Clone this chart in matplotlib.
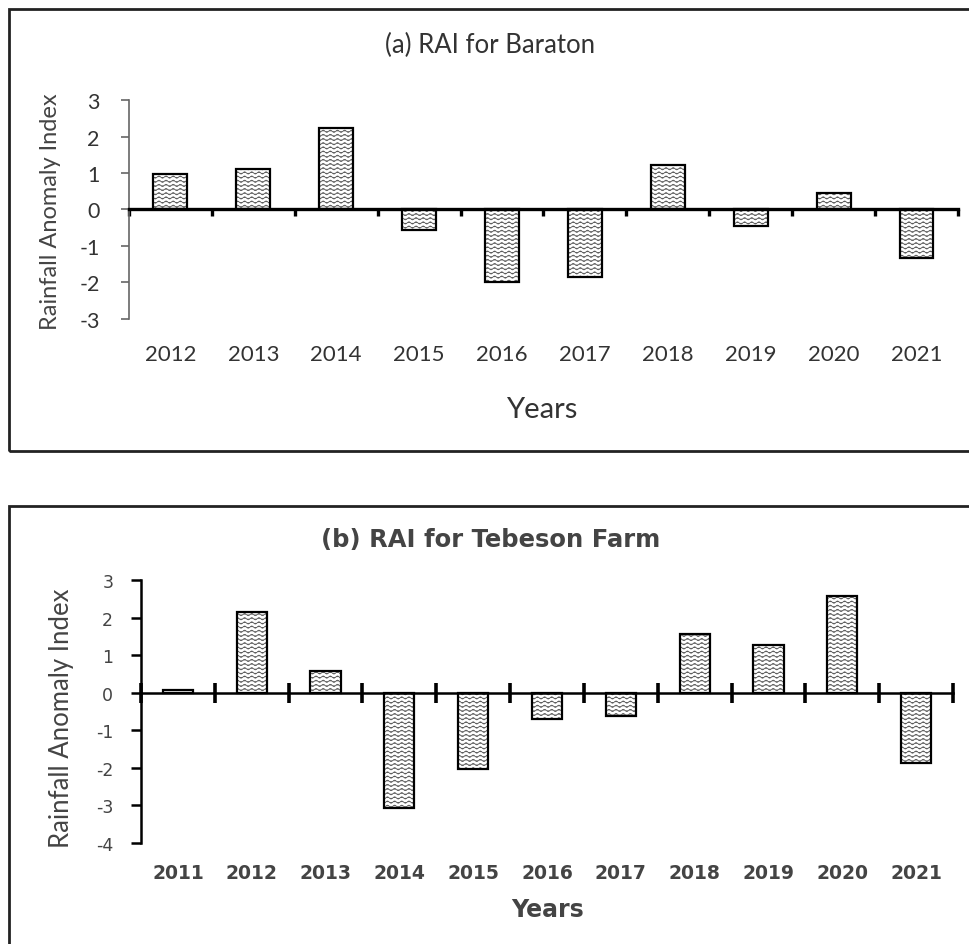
import numpy as np
import matplotlib
matplotlib.use('Agg')
import matplotlib.pyplot as plt
import matplotlib.hatch as mhatch
from matplotlib.path import Path
from matplotlib.patches import Rectangle

plt.rcParams.update({
    'axes.unicode_minus': False,
    'hatch.linewidth': 0.55,
    'hatch.color': '#555555',
})

# ── data ──────────────────────────────────────────────
years_a = ['2012', '2013', '2014', '2015', '2016', '2017', '2018', '2019', '2020', '2021']
rai_a = [0.97, 1.12, 2.22, -0.57, -2.0, -1.84, 1.23, -0.46, 0.44, -1.34]

years_b = ['2011', '2012', '2013', '2014', '2015', '2016', '2017', '2018', '2019', '2020', '2021']
rai_b = [0.08, 2.14, 0.58, -3.08, -2.02, -0.71, -0.62, 1.55, 1.26, 2.57, -1.86]


# wavy hatch: replace the plain horizontal hatch '-' with wavy lines
class WaveHatch(mhatch.HatchPatternBase):
    n_seg = 120

    def __init__(self, hatch, density):
        self.num_lines = int(hatch.count('-') * density)
        self.num_vertices = self.num_lines * (self.n_seg + 1)

    def set_vertices_and_codes(self, vertices, codes):
        n = self.n_seg + 1
        x = np.linspace(0, 1, n)
        step = 1.0 / self.num_lines
        for i in range(self.num_lines):
            y0 = (i + 0.5) * step
            sl = slice(i * n, (i + 1) * n)
            vertices[sl, 0] = x
            vertices[sl, 1] = y0 + 0.011 * np.sin(2 * np.pi * 14 * x)
            codes[sl] = Path.LINETO
            codes[i * n] = Path.MOVETO


mhatch._hatch_types[:] = [WaveHatch if t is mhatch.HorizontalHatch else t
                          for t in mhatch._hatch_types]

fig = plt.figure(figsize=(9.69, 9.45), dpi=100)

# panel frames
fig.add_artist(Rectangle((0.0093, 0.5217), 1.2, 0.4677, transform=fig.transFigure,
                         fill=False, lw=2.0, ec='#222222'))
fig.add_artist(Rectangle((0.0093, -0.2), 1.2, 0.6635, transform=fig.transFigure,
                         fill=False, lw=2.0, ec='#222222'))


def draw_bars(ax, vals, w=0.41):
    x = np.arange(len(vals))
    ax.bar(x, vals, w, color='white', hatch='----', lw=0, zorder=2)
    ax.bar(x, vals, w, fill=False, ec='black', lw=1.6, zorder=3)
    return x


# ── (a) Baraton ──────────────────────────────────────
f_a = 'Lato'
axa = fig.add_axes([0.1331, 0.6614, 0.8555, 0.2317])
xa = draw_bars(axa, rai_a)
axa.set_xlim(-0.5, len(years_a) - 0.5)
axa.set_ylim(-3, 3)
for s in ['top', 'right']:
    axa.spines[s].set_visible(False)
axa.spines['bottom'].set_position(('data', 0))
axa.spines['bottom'].set_linewidth(2.4)
axa.spines['bottom'].set_zorder(4)
axa.spines['left'].set_color('#666666')
axa.spines['left'].set_linewidth(1.2)
axa.set_yticks(range(-3, 4))
axa.tick_params(axis='y', direction='out', length=6, width=1.2, color='#666666',
                pad=15, labelsize=15.5, labelcolor='#333333')
for lb in axa.get_yticklabels():
    lb.set_fontfamily(f_a)
axa.set_xticks(np.arange(-0.5, len(years_a)))
axa.set_xticklabels([])
axa.tick_params(axis='x', direction='out', length=5, width=2.4, color='black')
for i, y in enumerate(years_a):
    axa.text(i, -3.97, y, ha='center', va='center', fontsize=16, family=f_a,
             color='#333333', clip_on=False)
fig.text(0.506, 0.9524, '(a) RAI for Baraton', ha='center', va='center',
         fontsize=18.5, family=f_a, color='#333333')
fig.text(0.559, 0.566, 'Years', ha='center', va='center', fontsize=21,
         family=f_a, color='#333333')
fig.text(0.052, 0.7760, 'Rainfall Anomaly Index', ha='center', va='center',
         rotation=90, fontsize=17, family=f_a, color='#444444')

# ── (b) Tebeson Farm ─────────────────────────────────
f_b = 'DejaVu Sans'
axb = fig.add_axes([0.1455, 0.1069, 0.8380, 0.2783])
xb = draw_bars(axb, rai_b)
axb.set_xlim(-0.5, len(years_b) - 0.5)
axb.set_ylim(-4, 3)
for s in ['top', 'right']:
    axb.spines[s].set_visible(False)
axb.spines['bottom'].set_position(('data', 0))
axb.spines['bottom'].set_linewidth(1.8)
axb.spines['bottom'].set_zorder(4)
axb.spines['left'].set_linewidth(1.8)
axb.set_yticks(range(-4, 4))
axb.tick_params(axis='y', direction='out', length=7, width=1.8, pad=13,
                labelsize=12.5, labelcolor='#444444')
axb.set_xticks(np.arange(-0.5, len(years_b)))
axb.set_xticklabels([])
axb.tick_params(axis='x', direction='inout', length=14, width=2.6, color='black')
for i, y in enumerate(years_b):
    axb.text(i, -4.78, y, ha='center', va='center', fontsize=13.5, family=f_b,
             fontweight='bold', color='#444444', clip_on=False)
fig.text(0.506, 0.4286, '(b) RAI for Tebeson Farm', ha='center', va='center',
         fontsize=17.5, family=f_b, fontweight='bold', color='#444444')
fig.text(0.565, 0.0370, 'Years', ha='center', va='center', fontsize=17,
         family=f_b, fontweight='bold', color='#444444')
fig.text(0.063, 0.2400, 'Rainfall Anomaly Index', ha='center', va='center',
         rotation=90, fontsize=18.5, family=f_a, color='#444444')

fig.savefig('out.png', dpi=100)
